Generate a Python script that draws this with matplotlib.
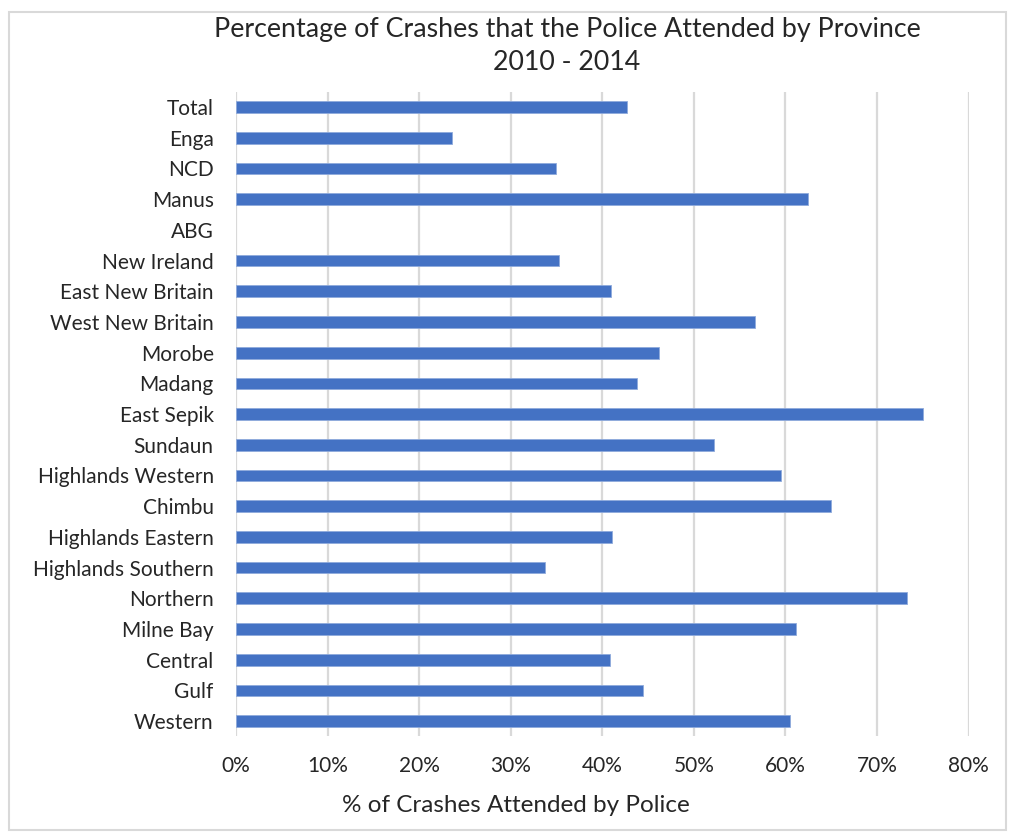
import matplotlib
matplotlib.use('Agg')
from matplotlib import pyplot as plt
from matplotlib.patches import Rectangle
from matplotlib.ticker import PercentFormatter

plt.rcParams['font.family'] = ['Lato', 'DejaVu Sans']

provinces = ['Total', 'Enga', 'NCD', 'Manus', 'ABG', 'New Ireland',
             'East New Britain', 'West New Britain', 'Morobe', 'Madang',
             'East Sepik', 'Sundaun', 'Highlands Western', 'Chimbu',
             'Highlands Eastern', 'Highlands Southern', 'Northern',
             'Milne Bay', 'Central', 'Gulf', 'Western']
attended = [0.427, 0.236, 0.350, 0.625, 0.0, 0.353,
            0.410, 0.567, 0.462, 0.438,
            0.750, 0.522, 0.595, 0.650,
            0.411, 0.337, 0.733,
            0.612, 0.409, 0.445, 0.605]
xticks = [0, 0.1, 0.2, 0.3, 0.4, 0.5, 0.6, 0.7, 0.8]

text_col = '#262626'
grid_col = '#d9d9d9'

fig = plt.figure(figsize=(10.11, 8.34), dpi=100)
ax = fig.add_axes([0.2334, 0.117, 0.7246, 0.773])

ypos = range(len(provinces))
# no outline on empty bars so a zero value leaves nothing behind
edges = ['#8faadc' if v > 0 else 'none' for v in attended]
ax.barh(ypos, attended, height=0.38, color='#4472c4',
        edgecolor=edges, linewidth=0.6, zorder=3)

ax.set_xlim(0, 0.8)
ax.set_ylim(len(provinces) - 0.5, -0.5)
ax.set_xticks(xticks)
ax.xaxis.set_major_formatter(PercentFormatter(1.0, decimals=0))
ax.set_yticks(list(ypos))
ax.set_yticklabels(provinces)
ax.tick_params(axis='y', length=0, pad=16, labelsize=15, labelcolor=text_col)
ax.tick_params(axis='x', length=0, pad=14, labelsize=15, labelcolor=text_col)

ax.grid(axis='x', color=grid_col, linewidth=1.6, zorder=0)
for s in ax.spines.values():
    s.set_visible(False)

# title and axis title placed in figure pixels
fig.text(567 / 1011, 1 - 30 / 834, 'Percentage of Crashes that the Police Attended by Province',
         ha='center', va='center', fontsize=19.3, color=text_col)
fig.text(567 / 1011, 1 - 63 / 834, '2010 - 2014',
         ha='center', va='center', fontsize=19.3, color=text_col)
fig.text(516 / 1011, 1 - 806 / 834, '% of Crashes Attended by Police',
         ha='center', va='center', fontsize=17.5, color=text_col)

# light frame round the chart area
fig.patches.append(Rectangle((9 / 1011, 1 - 830 / 834), 997 / 1011, 818 / 834,
                             transform=fig.transFigure, fill=False,
                             edgecolor=grid_col, linewidth=1.5))

fig.savefig('out.png', dpi=100, facecolor='white')
